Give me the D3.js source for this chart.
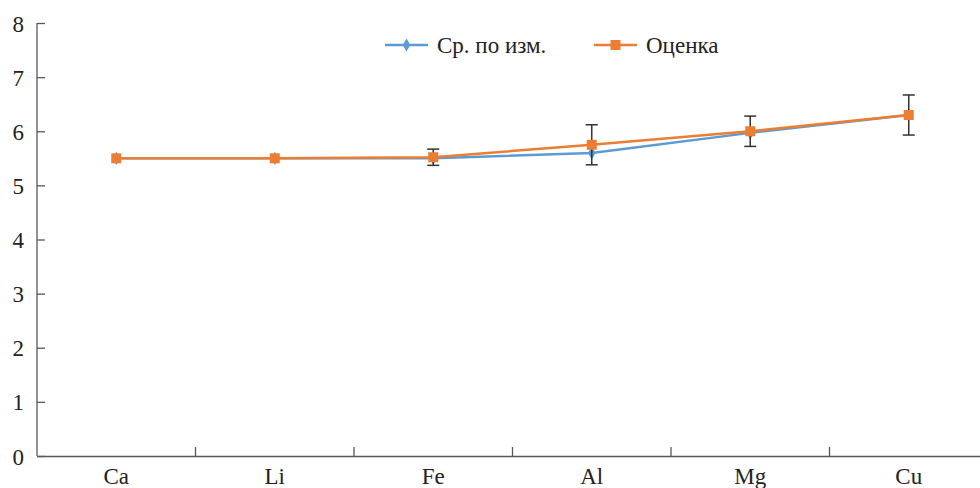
<!DOCTYPE html>
<html>
<head>
<meta charset="utf-8">
<script src="https://cdn.jsdelivr.net/npm/d3@7"></script>
<style>
  body { margin: 0; background: #fff; }
</style>
</head>
<body>
<div id="chart"></div>
<script>
// Chart data
var categories = ["Ca", "Li", "Fe", "Al", "Mg", "Cu"];
var measured = [5.5, 5.5, 5.5, 5.6, 5.97, 6.3];
var estimate = [5.5, 5.5, 5.52, 5.75, 6.0, 6.3];
var estimateErr = [0, 0, 0.15, 0.37, 0.28, 0.37];
var yTicks = [0, 1, 2, 3, 4, 5, 6, 7, 8];
var seriesNames = ["Ср. по изм.", "Оценка"];

var svgWidth = 980;
var svgHeight = 488;
var margin = { top: 23, left: 37, bottom: 32 };
var plotBottom = svgHeight - margin.bottom;
var bandWidth = 158.5;
var fontFamily = "'Liberation Serif', 'Times New Roman', 'DejaVu Serif', serif";

var svg = d3.select("#chart")
  .append("svg")
  .attr("width", svgWidth)
  .attr("height", svgHeight);

var xScale = d3.scaleBand()
  .domain(categories)
  .range([margin.left, margin.left + bandWidth * categories.length]);

var yScale = d3.scaleLinear()
  .domain([0, 8])
  .range([plotBottom, margin.top]);

var axisColor = "#595959";

// Y axis, ticks pointing inside
var yAxis = svg.append("g")
  .attr("transform", `translate(${margin.left},0)`)
  .call(d3.axisRight(yScale).tickValues(yTicks).tickSize(8).tickFormat(d3.format("d")));
yAxis.attr("font-family", null);
yAxis.select(".domain").attr("stroke", axisColor).attr("stroke-width", 1.3)
  .attr("d", `M0,${yScale(8)}V${yScale(0)}`);
yAxis.selectAll(".tick line").attr("stroke", axisColor).attr("stroke-width", 1.3);
yAxis.selectAll(".tick text")
  .attr("x", -13)
  .attr("dy", "0.35em")
  .attr("text-anchor", "end")
  .attr("fill", "#222")
  .style("font-family", fontFamily)
  .style("font-size", "23px");

// X axis with band separators
var xAxis = svg.append("g")
  .attr("transform", `translate(0,${plotBottom})`)
  .call(d3.axisBottom(xScale).tickSize(0).tickPadding(12));
xAxis.attr("font-family", null);
xAxis.select(".domain").attr("stroke", axisColor).attr("stroke-width", 1.3);
xAxis.selectAll(".tick text")
  .attr("dy", "0.71em")
  .attr("fill", "#222")
  .style("font-family", fontFamily)
  .style("font-size", "23px");

xAxis.selectAll(".sep")
  .data(categories.slice(1))
  .enter()
  .append("line")
  .attr("x1", d => xScale(d))
  .attr("x2", d => xScale(d))
  .attr("y1", 0)
  .attr("y2", -9)
  .attr("stroke", axisColor)
  .attr("stroke-width", 1.3);

var cx = d => xScale(d) + xScale.bandwidth() / 2;

var blue = "#5B9BD5";
var orange = "#ED7D31";

var line = d3.line()
  .x((d, i) => cx(categories[i]))
  .y(d => yScale(d));

// Measured series
svg.append("path")
  .datum(measured)
  .attr("d", line)
  .attr("fill", "none")
  .attr("stroke", blue)
  .attr("stroke-width", 2.5);

svg.selectAll(".diamond")
  .data(measured)
  .enter()
  .append("path")
  .attr("d", d3.symbol(d3.symbolDiamond, 50))
  .attr("transform", (d, i) => `translate(${cx(categories[i])},${yScale(d)})`)
  .attr("fill", blue);

// Error bars for the estimate
var errData = estimate.map((d, i) => ({ cat: categories[i], v: d, e: estimateErr[i] }))
  .filter(d => d.e > 0);

var errG = svg.selectAll(".err")
  .data(errData)
  .enter()
  .append("g")
  .attr("stroke", "#333")
  .attr("stroke-width", 1.5);
errG.append("line")
  .attr("x1", d => cx(d.cat)).attr("x2", d => cx(d.cat))
  .attr("y1", d => yScale(d.v + d.e)).attr("y2", d => yScale(d.v - d.e));
errG.append("line")
  .attr("x1", d => cx(d.cat) - 6).attr("x2", d => cx(d.cat) + 6)
  .attr("y1", d => yScale(d.v + d.e)).attr("y2", d => yScale(d.v + d.e));
errG.append("line")
  .attr("x1", d => cx(d.cat) - 6).attr("x2", d => cx(d.cat) + 6)
  .attr("y1", d => yScale(d.v - d.e)).attr("y2", d => yScale(d.v - d.e));

// Estimate series
svg.append("path")
  .datum(estimate)
  .attr("d", line)
  .attr("fill", "none")
  .attr("stroke", orange)
  .attr("stroke-width", 2.5);

svg.selectAll(".square")
  .data(estimate)
  .enter()
  .append("rect")
  .attr("x", (d, i) => cx(categories[i]) - 5)
  .attr("y", d => yScale(d) - 5)
  .attr("width", 10)
  .attr("height", 10)
  .attr("fill", orange);

// Legend
var legend = svg.append("g").attr("transform", "translate(385,45)");
var items = [
  { name: seriesNames[0], color: blue, x: 0, marker: "diamond" },
  { name: seriesNames[1], color: orange, x: 209, marker: "square" }
];
items.forEach(function(it) {
  var g = legend.append("g").attr("transform", `translate(${it.x},0)`);
  g.append("line").attr("x1", 0).attr("x2", 43).attr("y1", 0).attr("y2", 0)
    .attr("stroke", it.color).attr("stroke-width", 2.5);
  if (it.marker === "diamond") {
    g.append("path").attr("d", d3.symbol(d3.symbolDiamond, 50))
      .attr("transform", "translate(21.5,0)").attr("fill", it.color);
  } else {
    g.append("rect").attr("x", 16.5).attr("y", -5).attr("width", 10).attr("height", 10)
      .attr("fill", it.color);
  }
  g.append("text").attr("x", 52).attr("y", 0).attr("dy", "0.35em")
    .attr("fill", "#222")
    .style("font-family", fontFamily)
    .style("font-size", "23px").text(it.name);
});
</script>
</body>
</html>
